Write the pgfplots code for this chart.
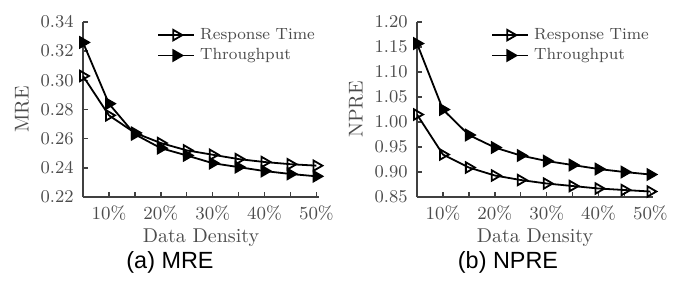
\documentclass[border=0pt]{standalone}
\usepackage{pgfplots}
\pgfplotsset{compat=1.18}
\usepackage{fontspec}
\newfontfamily\capfont{Liberation Sans}
\begin{document}
\begin{tikzpicture}
\useasboundingbox (-41.5pt,-42pt) rectangle (301pt,98.5pt);
\pgfplotsset{
  myaxis/.style={
    scale only axis,
    width=118pt, height=87.5pt,
    axis lines=left,
    axis line style={-, line width=0.9pt, black!75},
    xmin=5, xmax=50.5,
    xtick={10,20,30,40,50},
    xticklabels={10\%,20\%,30\%,40\%,50\%},
    minor xtick={5,15,25,35,45},
    tick align=inside,
    major tick length=2.5pt, minor tick length=2.5pt,
    tick style={black!75, line width=0.7pt},
    every tick label/.append style={text=black!70, font=\fontsize{9.2}{11}\selectfont},
    xticklabel style={anchor=center, yshift=-8pt},
    yticklabel style={anchor=east, inner sep=0pt, xshift=-4.5pt,
      /pgf/number format/fixed, /pgf/number format/fixed zerofill, /pgf/number format/precision=2},
    label style={text=black!70, font=\fontsize{10}{12}\selectfont},
    xlabel={Data Density},
    xlabel style={at={(axis description cs:0.5,0)}, anchor=center, yshift=-20.5pt},
    ylabel style={at={(axis description cs:0,0.5)}, anchor=center, yshift=30.5pt},
    legend style={draw=none, fill=none, inner sep=0pt, at={(rel axis cs:0.3136,0.972)}, anchor=north west,
      font=\fontsize{8.1}{10}\selectfont, text=black!70, row sep=2.4pt, column sep=2.5pt,
      nodes={inner sep=0pt, text height=6pt, text depth=1.8pt}},
    legend cell align=left,
    legend image code/.code={
      \draw[#1, line width=0.9pt] (0pt,0pt) -- (18pt,0pt);
      \draw[#1, line width=0.9pt, mark repeat=1] plot coordinates {(9pt,0pt)};
    },
    every axis plot/.append style={line width=0.9pt, black},
    rt/.style={mark=triangle, mark options={rotate=-90, fill=white, solid}, mark size=3pt},
    tp/.style={mark=triangle*, mark options={rotate=-90, fill=black, solid}, mark size=3pt},
  }
}
\begin{axis}[myaxis,
  ymin=0.22, ymax=0.34,
  ytick={0.22,0.24,0.26,0.28,0.30,0.32,0.34},
  ylabel={MRE}]
\addplot[rt] coordinates {(5,0.303) (10,0.276) (15,0.264) (20,0.257) (25,0.252) (30,0.249) (35,0.246) (40,0.244) (45,0.2425) (50,0.2415)};
\addlegendentry{Response Time}
\addplot[tp] coordinates {(5,0.326) (10,0.284) (15,0.263) (20,0.2535) (25,0.2485) (30,0.2432) (35,0.2405) (40,0.2378) (45,0.2358) (50,0.2342)};
\addlegendentry{Throughput}
\end{axis}
\node[font=\capfont\fontsize{11.7}{14}\selectfont, anchor=center] at (43.5pt,-32.5pt) {(a) MRE};
\begin{axis}[myaxis, at={(167pt,0pt)},
  ymin=0.85, ymax=1.20,
  ytick={0.85,0.90,0.95,1.00,1.05,1.10,1.15,1.20},
  ylabel={NPRE}]
\addplot[rt] coordinates {(5,1.015) (10,0.935) (15,0.909) (20,0.893) (25,0.884) (30,0.877) (35,0.872) (40,0.867) (45,0.864) (50,0.861)};
\addlegendentry{Response Time}
\addplot[tp] coordinates {(5,1.157) (10,1.025) (15,0.974) (20,0.949) (25,0.933) (30,0.922) (35,0.914) (40,0.906) (45,0.900) (50,0.895)};
\addlegendentry{Throughput}
\end{axis}
\node[font=\capfont\fontsize{11.7}{14}\selectfont, anchor=center] at (212.5pt,-32.5pt) {(b) NPRE};
\end{tikzpicture}
\end{document}
